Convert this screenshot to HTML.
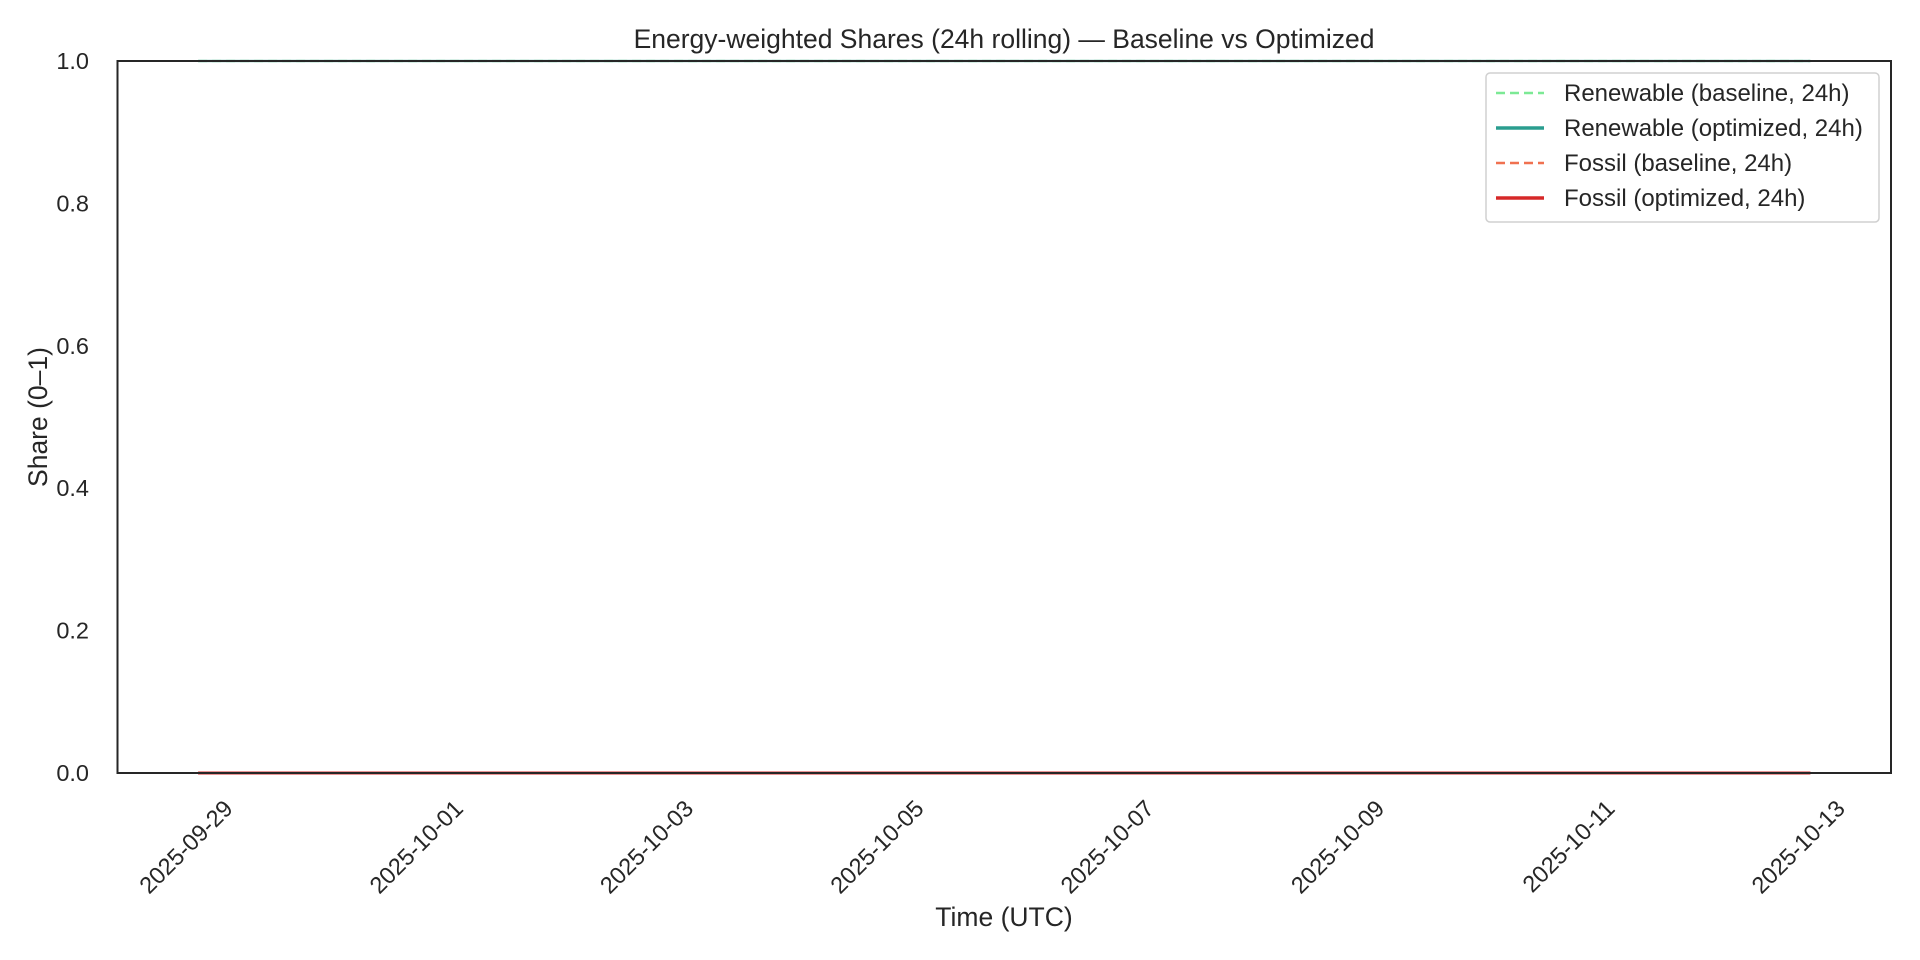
<!DOCTYPE html>
<html><head><meta charset="utf-8"><style>
body{margin:0;background:#fff;}
svg{display:block;font-family:"Liberation Sans",sans-serif;fill:#262626;}
</style></head><body>
<svg id="chart" width="1920" height="960" viewBox="0 0 1920 960">
<rect width="1920" height="960" fill="#fff"/>
<text x="1004" y="48" font-size="26.5" text-anchor="middle">Energy-weighted Shares (24h rolling) — Baseline vs Optimized</text>
<g id="plot"></g>
<g id="yticks"></g>
<g id="xticks"></g>
<rect x="117.5" y="61" width="1773.5" height="712" fill="none" stroke="#262626" stroke-width="2"/>
<text x="1004" y="926" font-size="26.5" text-anchor="middle">Time (UTC)</text>
<text transform="translate(47,417) rotate(-90)" font-size="26.5" text-anchor="middle">Share (0–1)</text>
<g>
<rect x="1486" y="73" width="393" height="149" rx="4" fill="#fff" fill-opacity="0.8" stroke="#d0d0d0" stroke-width="1.5"/>
<g><line x1="1496" y1="93" x2="1544" y2="93" stroke="#7ce995" stroke-width="2.5" stroke-dasharray="9,5"/><text x="1564" y="101" font-size="24">Renewable (baseline, 24h)</text></g>
<g><line x1="1496" y1="128" x2="1544" y2="128" stroke="#2a9d8f" stroke-width="3.5"/><text x="1564" y="136" font-size="24">Renewable (optimized, 24h)</text></g>
<g><line x1="1496" y1="163" x2="1544" y2="163" stroke="#f07150" stroke-width="2.5" stroke-dasharray="9,5"/><text x="1564" y="171" font-size="24">Fossil (baseline, 24h)</text></g>
<g><line x1="1496" y1="198" x2="1544" y2="198" stroke="#d62828" stroke-width="3.5"/><text x="1564" y="206" font-size="24">Fossil (optimized, 24h)</text></g>
</g>
</svg>
<script>
const dates = ["2025-09-29","2025-09-30","2025-10-01","2025-10-02","2025-10-03","2025-10-04","2025-10-05","2025-10-06","2025-10-07","2025-10-08","2025-10-09","2025-10-10","2025-10-11","2025-10-12","2025-10-13"];
const renewableBaseline = [1,1,1,1,1,1,1,1,1,1,1,1,1,1,1];
const renewableOptimized = [1,1,1,1,1,1,1,1,1,1,1,1,1,1,1];
const fossilBaseline = [0,0,0,0,0,0,0,0,0,0,0,0,0,0,0];
const fossilOptimized = [0,0,0,0,0,0,0,0,0,0,0,0,0,0,0];
const xTickLabels = ["2025-09-29","2025-10-01","2025-10-03","2025-10-05","2025-10-07","2025-10-09","2025-10-11","2025-10-13"];
const yTickValues = [0,0.2,0.4,0.6,0.8,1.0];

const NS="http://www.w3.org/2000/svg";
const L=117.5,R=1891,T=61,B=773;
const t0=Date.parse(dates[0]), t1=Date.parse(dates[dates.length-1]);
const pad=(t1-t0)*0.05;
function xs(d){const t=Date.parse(d);return L+(t-(t0-pad))/((t1+pad)-(t0-pad))*(R-L);}
function ys(v){return B-(v-0)/(1-0)*(B-T);}
function mk(tag,attrs,parent){const e=document.createElementNS(NS,tag);for(const k in attrs)e.setAttribute(k,attrs[k]);parent.appendChild(e);return e;}
const plot=document.getElementById('plot');
function series(vals,color,w,dash,name,op){
  const pts=vals.map((v,i)=>xs(dates[i]).toFixed(1)+","+ys(v).toFixed(1)).join(" ");
  const p=mk('polyline',{points:pts,fill:'none',stroke:color,'stroke-width':w,'stroke-opacity':op},plot);
  if(dash)p.setAttribute('stroke-dasharray',dash);
  
  
}
series(renewableBaseline,'#7ce995',2.5,'9,5','line-renewable-baseline',0.5);
series(renewableOptimized,'#2a9d8f',3,null,'line-renewable-optimized',0.3);
series(fossilBaseline,'#f07150',2.5,'9,5','line-fossil-baseline',1);
series(fossilOptimized,'#d62828',3,null,'line-fossil-optimized',1);
const yg=document.getElementById('yticks');
yTickValues.forEach(v=>{
  const t=mk('text',{x:89,y:ys(v)+8,'font-size':23.5,'text-anchor':'end'},yg);
  t.textContent=v.toFixed(1);
  
  
});
const xg=document.getElementById('xticks');
xTickLabels.forEach(d=>{
  const x=xs(d);
  const t=mk('text',{transform:`translate(${x+36},${810}) rotate(-45)`,'font-size':23.5,'text-anchor':'end'},xg);
  t.textContent=d;
  
  
});
</script>
</body></html>
